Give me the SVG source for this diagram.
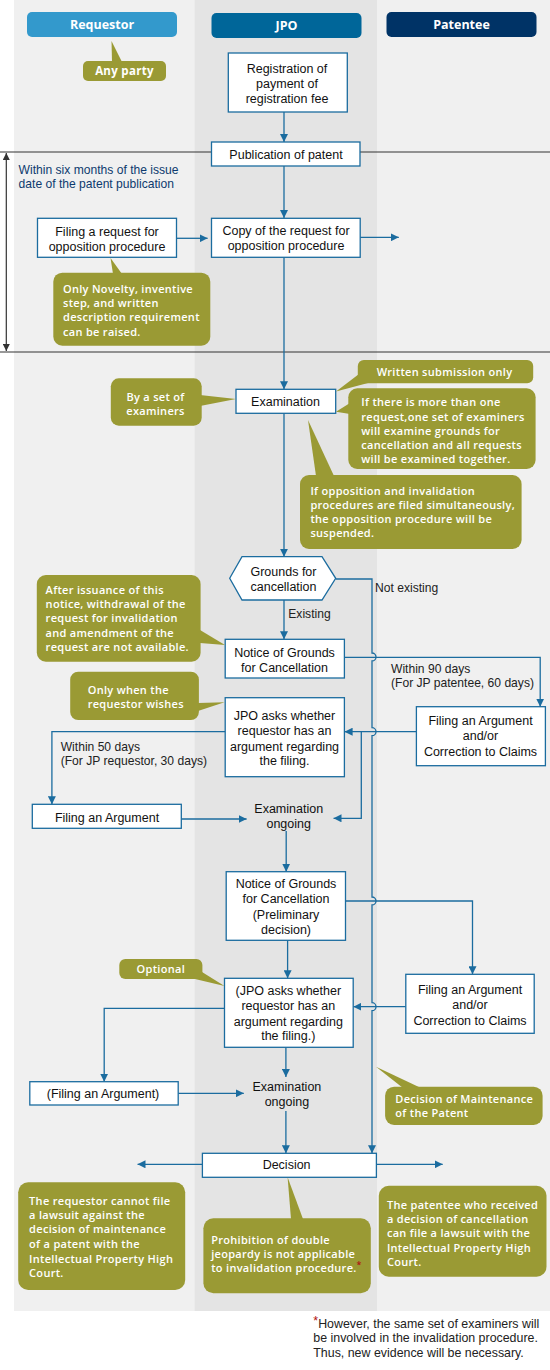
<svg xmlns="http://www.w3.org/2000/svg" width="550" height="1370" viewBox="0 0 550 1370">
<defs>
<style>
.box{fill:#fff;stroke:#1b6c9f;stroke-width:1.3}
.bt{font-family:"Liberation Sans",Arial,sans-serif;font-size:12.5px;fill:#111;text-anchor:middle}
.lt{font-family:"Liberation Sans",Arial,sans-serif;font-size:12.1px;fill:#222}
.co{fill:#9a9a34}
.ct{font-family:"Open Sans","Noto Sans",sans-serif;font-size:11px;fill:#fff;letter-spacing:0.3px;font-weight:600}
.ln{stroke:#1b6c9f;stroke-width:1.3;fill:none}
.hd{font-family:"Open Sans","Noto Sans",sans-serif;font-size:12.5px;font-weight:700;fill:#fff;text-anchor:middle}
</style>
<marker id="ah" viewBox="0 0 10 10" refX="10" refY="5" markerWidth="8" markerHeight="8" markerUnits="userSpaceOnUse" orient="auto"><path d="M0,0 L10,5 L0,10 z" fill="#1b6c9f"/></marker>
<marker id="bk" viewBox="0 0 10 10" refX="10" refY="5" markerWidth="7" markerHeight="7" markerUnits="userSpaceOnUse" orient="auto-start-reverse"><path d="M0,0 L10,5 L0,10 z" fill="#333"/></marker>
</defs>
<rect x="14" y="0" width="536" height="1311" fill="#f0f0f0"/>
<rect x="194.7" y="0" width="182.3" height="1311" fill="#e4e4e4"/>

<g id="headers">
<rect x="27" y="12" width="150" height="25" rx="5" fill="#3399cc"/>
<text class="hd" x="102" y="29">Requestor</text>
<rect x="211.5" y="13" width="150" height="25" rx="5" fill="#006699"/>
<text class="hd" x="286.5" y="30">JPO</text>
<rect x="386.5" y="12" width="150" height="25" rx="5" fill="#003366"/>
<text class="hd" x="461.5" y="29">Patentee</text>
</g>

<g id="period">
<line x1="0" y1="152" x2="550" y2="152" stroke="#333" stroke-width="1.2"/>
<line x1="0" y1="352" x2="550" y2="352" stroke="#333" stroke-width="1.2"/>
<line x1="6.3" y1="153" x2="6.3" y2="351" stroke="#333" stroke-width="1.2" marker-start="url(#bk)" marker-end="url(#bk)"/>
<text class="lt" x="18.6" y="173.5" style="fill:#0d3a6e">Within six months of the issue</text>
<text class="lt" x="18.6" y="188" style="fill:#0d3a6e">date of the patent publication</text>
</g>

<g id="connectors">
<path class="ln" d="M284 112 V142" marker-end="url(#ah)"/>
<path class="ln" d="M284 166 V218" marker-end="url(#ah)"/>
<path class="ln" d="M176.5 238.3 H207.6" marker-end="url(#ah)"/>
<path class="ln" d="M360 237.3 H398.8" marker-end="url(#ah)"/>
<path class="ln" d="M284 257 V389.3" marker-end="url(#ah)"/>
<path class="ln" d="M284 413.3 V556.7" marker-end="url(#ah)"/>
<path class="ln" d="M284 600 V639.3" marker-end="url(#ah)"/>
<path class="ln" d="M335.7 579 H372 V653 A4 4 0 0 1 372 661 V727.7 A4 4 0 0 1 372 735.7 V897 A4 4 0 0 1 372 905 V1002.7 A4 4 0 0 1 372 1010.7 V1153.3" marker-end="url(#ah)"/>
<path class="ln" d="M344.4 657.3 H540.2 V706.7" marker-end="url(#ah)"/>
<path class="ln" d="M416.4 731.7 H344.6" marker-end="url(#ah)"/>
<path class="ln" d="M361.3 731.7 V818.3 H333.5" marker-end="url(#ah)"/>
<path class="ln" d="M225.2 731.7 H51.9 V804.3" marker-end="url(#ah)"/>
<path class="ln" d="M181.3 819 H246.6" marker-end="url(#ah)"/>
<path class="ln" d="M286.2 831 V871.7" marker-end="url(#ah)"/>
<path class="ln" d="M345.5 901 H472.5 V974.3" marker-end="url(#ah)"/>
<path class="ln" d="M287.6 940.3 V978.3" marker-end="url(#ah)"/>
<path class="ln" d="M405.8 1006.7 H353.4" marker-end="url(#ah)"/>
<path class="ln" d="M224.5 1008.3 H104.2 V1081.7" marker-end="url(#ah)"/>
<path class="ln" d="M178.2 1093.3 H243.8" marker-end="url(#ah)"/>
<path class="ln" d="M285.9 1047.3 V1077" marker-end="url(#ah)"/>
<path class="ln" d="M285.9 1111 V1153.3" marker-end="url(#ah)"/>
<path class="ln" d="M202.4 1164.3 H137.5" marker-end="url(#ah)"/>
<path class="ln" d="M376.4 1164.3 H442.7" marker-end="url(#ah)"/>
</g>

<g id="any-party">
<polygon class="co" points="111.5,41 112,62 122,62"/>
<rect class="co" x="83" y="61" width="83" height="20" rx="5"/>
<text class="ct" x="124.5" y="75" text-anchor="middle" style="font-weight:700;font-size:11.5px">Any party</text>
</g>

<g id="registration">
<rect class="box" x="228.3" y="53" width="119" height="59"/>
<text class="bt" x="287" y="72.5">Registration of</text>
<text class="bt" x="287" y="87.5">payment of</text>
<text class="bt" x="287" y="102.5">registration fee</text>
</g>

<g id="publication">
<rect class="box" x="211.5" y="142" width="148.5" height="24"/>
<text class="bt" x="286" y="159">Publication of patent</text>
</g>

<g id="filing-request">
<rect class="box" x="37.5" y="218.3" width="139" height="39"/>
<text class="bt" x="107" y="236">Filing a request for</text>
<text class="bt" x="107" y="250.5">opposition procedure</text>
</g>

<g id="copy-request">
<rect class="box" x="211.5" y="218.3" width="148.7" height="39"/>
<text class="bt" x="286" y="235">Copy of the request for</text>
<text class="bt" x="286" y="250">opposition procedure</text>
</g>

<g id="novelty-note">
<polygon class="co" points="110.5,258 113,274 122,274"/>
<rect class="co" x="53.3" y="272.7" width="157" height="73" rx="9"/>
<text class="ct" x="63" y="293">Only Novelty, inventive</text>
<text class="ct" x="63" y="307.3">step, and written</text>
<text class="ct" x="63" y="321.3">description requirement</text>
<text class="ct" x="63" y="336.3">can be raised.</text>
</g>

<g id="examination">
<rect class="box" x="236" y="389.3" width="99.7" height="24"/>
<text class="bt" x="285.5" y="406">Examination</text>
</g>

<g id="examiners-note">
<polygon class="co" points="200,395 236,399 200,406"/>
<rect class="co" x="110.8" y="378.3" width="90.9" height="47.4" rx="8"/>
<text class="ct" x="155.5" y="400.7" text-anchor="middle">By a set of</text>
<text class="ct" x="155.5" y="414.7" text-anchor="middle">examiners</text>
</g>

<g id="written-note">
<polygon class="co" points="336,391.5 359,374 368,383"/>
<rect class="co" x="357.8" y="360" width="175.4" height="23.3" rx="6"/>
<text class="ct" x="444.5" y="375.5" text-anchor="middle">Written submission only</text>
</g>

<g id="requests-note">
<polygon class="co" points="336,411.7 350,403 350,414"/>
<rect class="co" x="348.3" y="388.3" width="187.3" height="80.7" rx="9"/>
<text class="ct" x="361.3" y="406.3">If there is more than one</text>
<text class="ct" x="361.3" y="420.7">request,one set of examiners</text>
<text class="ct" x="361.3" y="434.7">will examine grounds for</text>
<text class="ct" x="361.3" y="449">cancellation and all requests</text>
<text class="ct" x="361.3" y="463.3">will be examined together.</text>
</g>

<g id="suspend-note">
<polygon class="co" points="308,420 316,476 334,476"/>
<rect class="co" x="300" y="475" width="221.6" height="74" rx="9"/>
<text class="ct" x="310.4" y="495">If opposition and invalidation</text>
<text class="ct" x="310.4" y="509.3">procedures are filed simultaneously,</text>
<text class="ct" x="310.4" y="523.3">the opposition procedure will be</text>
<text class="ct" x="310.4" y="537.3">suspended.</text>
</g>

<g id="grounds">
<polygon class="box" points="229.7,578.3 242,556.7 322,556.7 335.7,578.3 322,600 242,600"/>
<text class="bt" x="283.5" y="575.5">Grounds for</text>
<text class="bt" x="283.5" y="590.5">cancellation</text>
<text class="lt" x="375" y="592">Not existing</text>
<text class="lt" x="288.3" y="617.5">Existing</text>
</g>

<g id="notice">
<rect class="box" x="225.2" y="639.3" width="119.2" height="38.7"/>
<text class="bt" x="284.5" y="657">Notice of Grounds</text>
<text class="bt" x="284.5" y="671.5">for Cancellation</text>
</g>

<g id="withdrawal-note">
<polygon class="co" points="200,630 225,645 200,643"/>
<rect class="co" x="36.8" y="575" width="163.8" height="86.7" rx="9"/>
<text class="ct" x="45.6" y="594">After issuance of this</text>
<text class="ct" x="45.6" y="608">notice, withdrawal of the</text>
<text class="ct" x="45.6" y="622">request for invalidation</text>
<text class="ct" x="45.6" y="636.7">and amendment of the</text>
<text class="ct" x="45.6" y="651">request are not available.</text>
</g>

<g id="deadline-90">
<text class="lt" x="391" y="673">Within 90 days</text>
<text class="lt" x="391" y="686.5">(For JP patentee, 60 days)</text>
</g>

<g id="wishes-note">
<polygon class="co" points="198,703 224.5,702.3 198,711"/>
<rect class="co" x="70.2" y="671.7" width="128.7" height="48.3" rx="8"/>
<text class="ct" x="87.7" y="694">Only when the</text>
<text class="ct" x="87.7" y="708">requestor wishes</text>
</g>

<g id="jpo-asks">
<rect class="box" x="225.2" y="697.7" width="119.2" height="79"/>
<text class="bt" x="284.5" y="720">JPO asks whether</text>
<text class="bt" x="284.5" y="735.3">requestor has an</text>
<text class="bt" x="284.5" y="750.6">argument regarding</text>
<text class="bt" x="284.5" y="765.3">the filing.</text>
</g>

<g id="patentee-argument-1">
<rect class="box" x="416.4" y="706.7" width="129" height="59"/>
<text class="bt" x="480.5" y="725.3">Filing an Argument</text>
<text class="bt" x="480.5" y="740">and/or</text>
<text class="bt" x="480.5" y="755.6">Correction to Claims</text>
</g>

<g id="deadline-50">
<text class="lt" x="60.7" y="751">Within 50 days</text>
<text class="lt" x="60.7" y="765.3">(For JP requestor, 30 days)</text>
</g>

<g id="filing-argument">
<rect class="box" x="32.3" y="804.3" width="149" height="24"/>
<text class="bt" x="107" y="822">Filing an Argument</text>
</g>

<g id="exam-ongoing-1">
<text class="bt" x="288.7" y="812.6">Examination</text>
<text class="bt" x="288.7" y="827.6">ongoing</text>
</g>

<g id="notice-preliminary">
<rect class="box" x="226.2" y="871.7" width="119.3" height="68.6"/>
<text class="bt" x="286" y="887.6">Notice of Grounds</text>
<text class="bt" x="286" y="903">for Cancellation</text>
<text class="bt" x="286" y="918.6">(Preliminary</text>
<text class="bt" x="286" y="933.6">decision)</text>
</g>

<g id="optional-note">
<polygon class="co" points="195,979 202,972 224.5,986"/>
<rect class="co" x="119.3" y="959" width="83.1" height="20" rx="6"/>
<text class="ct" x="160.8" y="973.3" text-anchor="middle">Optional</text>
</g>

<g id="jpo-asks-2">
<rect class="box" x="224.5" y="978.3" width="128.7" height="69"/>
<text class="bt" x="288.3" y="995">(JPO asks whether</text>
<text class="bt" x="288.3" y="1010">requestor has an</text>
<text class="bt" x="288.3" y="1025.6">argument regarding</text>
<text class="bt" x="288.3" y="1040.3">the filing.)</text>
</g>

<g id="patentee-argument-2">
<rect class="box" x="405.8" y="974.3" width="128.4" height="59"/>
<text class="bt" x="470" y="994.3">Filing an Argument</text>
<text class="bt" x="470" y="1009">and/or</text>
<text class="bt" x="470" y="1025">Correction to Claims</text>
</g>

<g id="filing-argument-2">
<rect class="box" x="29.8" y="1081.7" width="148.4" height="23.3"/>
<text class="bt" x="103" y="1097.6">(Filing an Argument)</text>
</g>

<g id="exam-ongoing-2">
<text class="bt" x="286.9" y="1091">Examination</text>
<text class="bt" x="286.9" y="1106">ongoing</text>
</g>

<g id="maintenance-note">
<polygon class="co" points="376,1066.7 403,1088 421,1088"/>
<rect class="co" x="385.1" y="1086.7" width="157.5" height="38.3" rx="9"/>
<text class="ct" x="395.3" y="1103">Decision of Maintenance</text>
<text class="ct" x="395.3" y="1117.3">of the Patent</text>
</g>

<g id="decision">
<rect class="box" x="202.4" y="1153.3" width="174" height="24"/>
<text class="bt" x="286.6" y="1169.3">Decision</text>
</g>

<g id="requestor-note">
<rect class="co" x="18.2" y="1182.3" width="167" height="107.7" rx="10"/>
<text class="ct" x="29.1" y="1204.7">The requestor cannot file</text>
<text class="ct" x="29.1" y="1219">a lawsuit against the</text>
<text class="ct" x="29.1" y="1233">decision of maintenance</text>
<text class="ct" x="29.1" y="1248.3">of a patent with the</text>
<text class="ct" x="29.1" y="1262.7">Intellectual Property High</text>
<text class="ct" x="29.1" y="1277">Court.</text>
</g>

<g id="jeopardy-note">
<polygon class="co" points="287.6,1177.3 291,1219 303,1219"/>
<rect class="co" x="203.4" y="1218.3" width="167.4" height="75" rx="10"/>
<text class="ct" x="211.2" y="1244">Prohibition of double</text>
<text class="ct" x="211.2" y="1258.3">jeopardy is not applicable</text>
<text class="ct" x="211.2" y="1272.3">to invalidation procedure.<tspan fill="#b01010" dy="-4" font-size="9">*</tspan></text>
</g>

<g id="patentee-note">
<rect class="co" x="378.8" y="1185.7" width="167.7" height="91" rx="10"/>
<text class="ct" x="386.9" y="1209">The patentee who received</text>
<text class="ct" x="386.9" y="1223">a decision of cancellation</text>
<text class="ct" x="386.9" y="1237">can file a lawsuit with the</text>
<text class="ct" x="386.9" y="1252">Intellectual  Property High</text>
<text class="ct" x="386.9" y="1266">Court.</text>
</g>

<g id="footnote">
<text class="lt" x="313.3" y="1328" style="font-size:12.4px"><tspan fill="#b01010" dy="-3">*</tspan><tspan dy="3">However, the same set of examiners will</tspan></text>
<text class="lt" x="313.3" y="1342" style="font-size:12.4px">be involved in the invalidation procedure.</text>
<text class="lt" x="313.3" y="1356.7" style="font-size:12.4px">Thus, new evidence will be necessary.</text>
</g>
</svg>
